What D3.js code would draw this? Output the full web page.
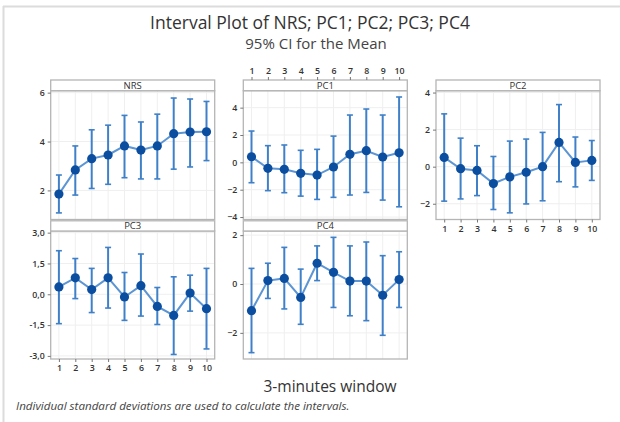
<!DOCTYPE html>
<html><head><meta charset="utf-8">
<script src="https://cdn.jsdelivr.net/npm/d3@7"></script>
<style>body{margin:0;background:#fff}svg{display:block}text{font-family:"Open Sans",sans-serif}</style>
</head><body><svg id="c" width="620" height="422"></svg>
<script>
const windows = [1,2,3,4,5,6,7,8,9,10];
const nrsMean  = [1.85,2.84,3.30,3.45,3.82,3.65,3.82,4.32,4.39,4.40];
const nrsLower = [1.08,1.81,2.08,2.25,2.52,2.47,2.47,2.87,2.96,3.22];
const nrsUpper = [2.63,3.82,4.48,4.67,5.07,4.80,5.12,5.78,5.74,5.64];
const pc1Mean  = [0.41,-0.44,-0.51,-0.80,-0.93,-0.34,0.59,0.85,0.39,0.70];
const pc1Lower = [-1.49,-2.07,-2.22,-2.47,-2.71,-2.56,-2.39,-2.20,-2.76,-3.25];
const pc1Upper = [2.29,1.22,1.27,0.88,0.95,1.92,3.46,3.90,3.46,4.78];
const pc2Mean  = [0.50,-0.11,-0.20,-0.91,-0.55,-0.30,0.00,1.31,0.23,0.34];
const pc2Lower = [-1.86,-1.74,-1.56,-2.31,-2.49,-2.01,-1.84,-0.81,-1.09,-0.74];
const pc2Upper = [2.85,1.54,1.13,0.55,1.38,1.49,1.85,3.35,1.60,1.41];
const pc3Mean  = [0.36,0.80,0.23,0.80,-0.13,0.42,-0.59,-1.03,0.06,-0.70];
const pc3Lower = [-1.43,-0.21,-0.89,-0.67,-1.27,-1.06,-1.47,-2.93,-0.82,-2.66];
const pc3Upper = [2.12,1.74,1.26,2.28,1.06,1.96,0.33,0.85,0.93,1.26];
const pc4Mean  = [-1.09,0.14,0.23,-0.55,0.85,0.48,0.12,0.12,-0.46,0.18];
const pc4Lower = [-2.81,-0.59,-1.02,-1.65,0.14,-0.96,-1.30,-1.50,-2.10,-0.96];
const pc4Upper = [0.64,0.85,1.50,0.61,1.56,1.91,1.56,1.72,1.16,1.32];
const nrsTicks = [2,4,6];
const pc1Ticks = [-4,-2,0,2,4];
const pc2Ticks = [-2,0,2,4];
const pc3Ticks = [-3,-1.5,0,1.5,3];
const pc4Ticks = [-2,0,2];
const nrsRange = [0.81,6.08];
const pc1Range = [-4.18,5.24];
const pc2Range = [-2.85,4.10];
const pc3Range = [-3.15,3.08];
const pc4Range = [-3.07,2.17];

const svg = d3.select("#c");
// frame
svg.append("line").attr("x1",3).attr("x2",620).attr("y1",6.5).attr("y2",6.5).attr("stroke","#dcdcdc").attr("stroke-width",2);
svg.append("line").attr("x1",3.5).attr("x2",3.5).attr("y1",6).attr("y2",422).attr("stroke","#dcdcdc").attr("stroke-width",2);

svg.append("text").attr("x",310).attr("y",29).attr("text-anchor","middle").attr("font-size",17.5).attr("fill","#333")
  .text("Interval Plot of NRS; PC1; PC2; PC3; PC4");
svg.append("text").attr("x",316).attr("y",49).attr("text-anchor","middle").attr("font-size",15).attr("fill","#444")
  .text("95% CI for the Mean");
svg.append("text").attr("x",330).attr("y",392).attr("text-anchor","middle").attr("font-size",15.5).attr("fill","#333")
  .text("3-minutes window");
svg.append("text").attr("x",16).attr("y",410).attr("font-size",11.6).attr("font-style","italic").attr("fill","#444")
  .text("Individual standard deviations are used to calculate the intervals.");

const colX = [50.7, 243.3, 436];
const W = 164;
const rows = [{st:80, top:90.7, bot:219.5},{st:220.8, top:231, bot:359}];

const panels = [
  {name:"NRS", col:0,row:0, mean:nrsMean, lo:nrsLower, hi:nrsUpper, ticks:nrsTicks, dom:nrsRange, xaxis:null, fmt:d3.format("d")},
  {name:"PC1", col:1,row:0, mean:pc1Mean, lo:pc1Lower, hi:pc1Upper, ticks:pc1Ticks, dom:pc1Range, xaxis:"top", fmt:d3.format("d")},
  {name:"PC2", col:2,row:0, mean:pc2Mean, lo:pc2Lower, hi:pc2Upper, ticks:pc2Ticks, dom:pc2Range, xaxis:"bottom", fmt:d3.format("d")},
  {name:"PC3", col:0,row:1, mean:pc3Mean, lo:pc3Lower, hi:pc3Upper, ticks:pc3Ticks, dom:pc3Range, xaxis:"bottom", fmt:v=>d3.format(".1f")(v).replace("−","-").replace(".",",")},
  {name:"PC4", col:1,row:1, mean:pc4Mean, lo:pc4Lower, hi:pc4Upper, ticks:pc4Ticks, dom:pc4Range, xaxis:null, fmt:d3.format("d")}
];

const lineCol = "#5b95d4", barCol = "#3f80c8", ptCol = "#0b4ea0", frameCol = "#b5b5b5";

panels.forEach(p=>{
  const x0 = colX[p.col], r = rows[p.row];
  const g = svg.append("g");
  const x = d3.scaleLinear().domain([0.5,10.5]).range([x0, x0+W]);
  const y = d3.scaleLinear().domain(p.dom).range([r.bot, r.top]);
  g.selectAll(".vg").data(windows).enter().append("line")
    .attr("x1",d=>x(d)).attr("x2",d=>x(d)).attr("y1",r.top).attr("y2",r.bot).attr("stroke","#efefef").attr("stroke-width",1);
  g.selectAll(".hg").data(p.ticks).enter().append("line")
    .attr("x1",x0).attr("x2",x0+W).attr("y1",d=>y(d)).attr("y2",d=>y(d)).attr("stroke","#efefef").attr("stroke-width",1);
  g.append("rect").attr("x",x0).attr("y",r.top).attr("width",W).attr("height",r.bot-r.top).attr("fill","none").attr("stroke",frameCol).attr("stroke-width",1.3);
  g.append("rect").attr("x",x0).attr("y",r.st).attr("width",W).attr("height",r.top-r.st).attr("fill","#fff").attr("stroke",frameCol).attr("stroke-width",1.3);
  g.append("text").attr("x",x0+W/2).attr("y",r.top-1.8).attr("text-anchor","middle").attr("font-size",9.5).attr("fill","#333").text(p.name);
  const ya = d3.axisLeft(y).tickValues(p.ticks).tickFormat(p.fmt).tickSize(3).tickPadding(3);
  const yg = g.append("g").attr("transform",`translate(${x0},0)`).call(ya);
  yg.select(".domain").remove();
  yg.selectAll("line").attr("stroke","#777");
  yg.selectAll("text").attr("font-size",8.8).attr("font-weight",600).attr("fill","#333").style("font-family","'Open Sans',sans-serif");
  if(p.xaxis){
    const isTop = p.xaxis==="top";
    const xa = (isTop?d3.axisTop(x):d3.axisBottom(x)).tickValues(windows).tickFormat(d3.format("d")).tickSize(3).tickPadding(3);
    const xg = g.append("g").attr("transform",`translate(0,${isTop?r.st:r.bot})`).call(xa);
    xg.select(".domain").remove();
    xg.selectAll("line").attr("stroke","#777");
    xg.selectAll("text").attr("font-size",8.8).attr("font-weight",600).attr("fill","#333").style("font-family","'Open Sans',sans-serif");
  }
  const data = windows.map((w,i)=>({w, m:p.mean[i], lo:p.lo[i], hi:p.hi[i]}));
  g.selectAll(".eb").data(data).enter().append("line")
    .attr("x1",d=>x(d.w)).attr("x2",d=>x(d.w)).attr("y1",d=>y(d.lo)).attr("y2",d=>y(d.hi)).attr("stroke",barCol).attr("stroke-width",2);
  ["lo","hi"].forEach(k=>{
    g.selectAll(".cap"+k).data(data).enter().append("line")
      .attr("x1",d=>x(d.w)-3).attr("x2",d=>x(d.w)+3).attr("y1",d=>y(d[k])).attr("y2",d=>y(d[k])).attr("stroke",barCol).attr("stroke-width",1.6);
  });
  g.append("path").datum(data).attr("fill","none").attr("stroke",lineCol).attr("stroke-width",2)
    .attr("d", d3.line().x(d=>x(d.w)).y(d=>y(d.m)));
  g.selectAll(".pt").data(data).enter().append("circle")
    .attr("cx",d=>x(d.w)).attr("cy",d=>y(d.m)).attr("r",4.6).attr("fill",ptCol);
});
</script></body></html>
